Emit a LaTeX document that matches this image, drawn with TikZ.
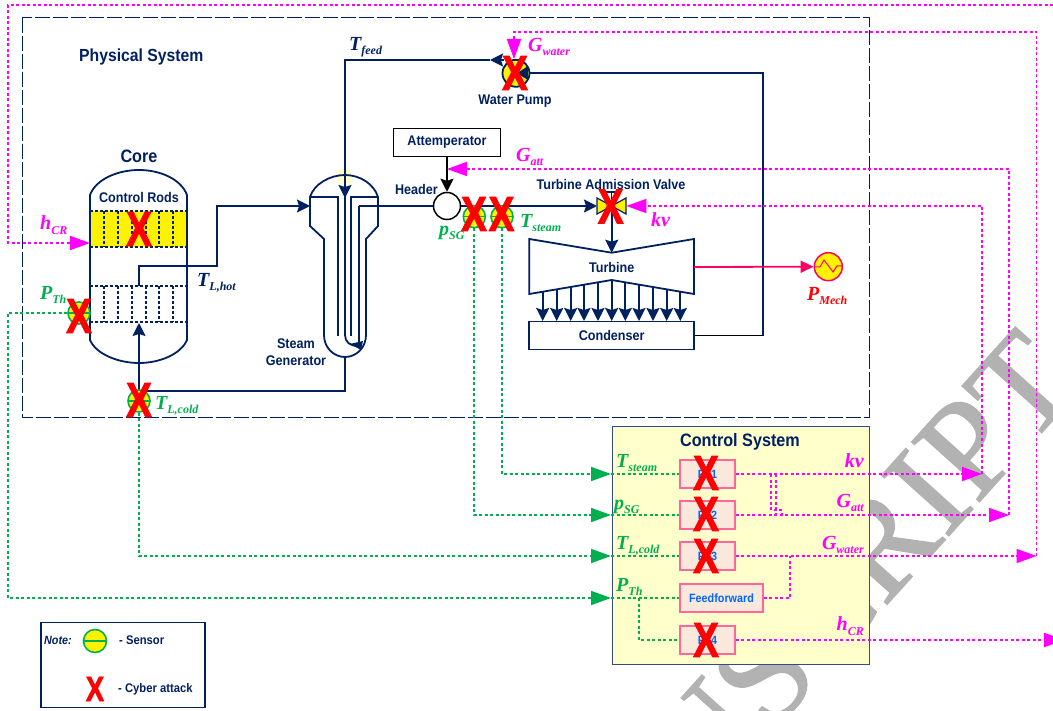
\documentclass[tikz,border=0pt]{standalone}
\usepackage{fontspec}
\setmainfont{Liberation Serif}
\setsansfont{Liberation Sans}[FakeStretch=0.9]
\newfontfamily\crossfont{Liberation Sans}[BoldFeatures={FakeBold=2,FakeStretch=0.78}]
\newfontfamily\stampfont{Liberation Serif}[FakeBold=1]
\usetikzlibrary{arrows.meta}
\definecolor{navy}{RGB}{0,32,96}
\definecolor{sgreen}{RGB}{0,176,80}
\definecolor{mgnt}{RGB}{255,0,255}
\definecolor{pale}{RGB}{255,255,204}
\definecolor{pidfill}{RGB}{251,232,220}
\definecolor{pidline}{RGB}{255,102,153}
\definecolor{pidtext}{RGB}{0,102,255}
\definecolor{gen}{RGB}{255,0,102}
\definecolor{wmark}{RGB}{178,178,178}
\newcommand{\sub}[2]{#1\raisebox{-.22em}{\fontsize{12}{12}\selectfont #2}}
\tikzset{
  pipe/.style={draw=navy, line width=1.8pt},
  flow/.style={pipe, -{Stealth[length=13pt,width=13pt,inset=2pt]}},
  sigm/.style={draw=mgnt, line width=1.8pt, dash pattern=on 3pt off 2.5pt},
  sigg/.style={draw=sgreen, line width=1.8pt, dash pattern=on 3pt off 2.5pt},
  tipm/.style={sigm, -{Triangle[length=20pt,width=14pt]}},
  tipg/.style={sigg, -{Triangle[length=20pt,width=14pt]}},
  rods/.style={draw=navy, line width=1.3pt, dash pattern=on 3pt off 2pt},
  sensor/.style={circle, draw=sgreen, fill=yellow, line width=1.6pt, minimum size=22pt, inner sep=0pt,
    path picture={\draw[sgreen, line width=1.6pt] (path picture bounding box.west) -- (path picture bounding box.east);}},
  attack/.style={text=red, font=\fontsize{49}{49}\selectfont\crossfont\bfseries, inner sep=0pt},
  pid/.style={draw=pidline, fill=pidfill, line width=1.6pt, minimum width=55pt, minimum height=28pt, inner sep=0pt,
    text=pidtext, font=\fontsize{12}{12}\selectfont\sffamily\bfseries},
  unit/.style={pipe, fill=white, minimum height=28pt, inner sep=0pt, text=navy, font=\fontsize{14}{14}\selectfont\sffamily\bfseries},
  txt/.style={text=navy, inner sep=0pt, align=center, font=\fontsize{14}{17}\selectfont\sffamily\bfseries},
  var/.style={inner sep=0pt, anchor=west, font=\fontsize{20}{20}\selectfont\rmfamily\bfseries\itshape},
  varr/.style={var, anchor=east}
}
\begin{document}
\begin{tikzpicture}[x=1pt, y=-1pt]
  \useasboundingbox (0,0) rectangle (1053,711);
  \node [rotate=48, text=wmark, font=\fontsize{138}{138}\selectfont\stampfont] (stamp) at (753,686) {MANUSCRIPT};
  % system frames
  \draw [navy, line width=1pt, dash pattern=on 15pt off 3pt] (22,18) rectangle (869,418);
  \node [draw=navy!80!white, fill=pale, line width=1pt, minimum width=257pt, minimum height=237pt, inner sep=0pt] (ctrl) at (740.5,545.5) {};
  \node [txt, font=\fontsize{17.5}{18}\selectfont\sffamily\bfseries, anchor=west] (phys) at (79,57) {Physical System};
  \node [txt, font=\fontsize{18}{18}\selectfont\sffamily\bfseries] (ctrltitle) at (740,442) {Control System};
  % core
  \fill [yellow] (90,211) rectangle (187,247);
  \draw [pipe] (90,195) .. controls (96,179) and (118,170) .. (139,170) .. controls (160,170) and (181,179) .. (187,195)
    -- (187,340) .. controls (181,354) and (160,363) .. (139,363) .. controls (118,363) and (96,354) .. (90,340) -- cycle;
  \foreach \y in {211,247,286,322} \draw [rods] (90,\y) -- (187,\y);
  \foreach \x in {104,118,132,146,159,173} {
    \draw [rods] (\x,211) -- (\x,247);
    \draw [rods] (\x,286) -- (\x,322);
  }
  \node [txt, font=\fontsize{18}{18}\selectfont\sffamily\bfseries] (core) at (139,156) {Core};
  \node [txt] (rodlabel) at (139,197) {Control Rods};
  % steam generator
  \fill [pale] (338,169) rectangle (351,184);
  \draw [pipe] (310,197) .. controls (314,184) and (330,175) .. (345,175) .. controls (360,175) and (374,184) .. (378,197)
    -- (378,226) -- (366,239) -- (366,335) .. controls (366,348) and (356,357) .. (345,357) .. controls (334,357) and (324,348) .. (324,335)
    -- (324,239) -- (310,226) -- cycle;
  \coordinate (sgtop) at (345,198);
  \coordinate (sgin) at (310,206);
  \coordinate (sgout) at (345,357);
  \draw [pipe] (310,197) -- (338,197) -- (338,336);
  \draw [pipe] (378,197) -- (351,197) -- (351,336);
  \draw [pipe] (345,198) -- (345,335) .. controls (345,342) and (350,346) .. (358,346);
  \draw [pipe] (359,343) -- (359,206);
  \fill [navy] (363,341) -- (350,344) -- (361,350) -- cycle;
  \node [txt] (sglabel) at (296,352) {Steam\\Generator};
  % turbine and condenser
  \node [unit, minimum width=165pt] (cond) at (611.7,335.5) {Condenser};
  \draw [pipe] (529.3,239) -- (611.7,252.7) -- (694,239) -- (694,294) -- (611.7,280) -- (529.3,294) -- cycle;
  \node [txt] (turb) at (611.7,267) {Turbine};
  \foreach \x/\y in {542.7/292,556.7/290,570.7/287,584/285,598/282,611.7/280,625.3/282,639/285,653/287,666.7/290,680.3/292}
    \draw [flow] (\x,\y) -- (\x,321);
  % header, attemperator, valve, pump
  \node [circle, draw=black, fill=white, line width=1.5pt, minimum size=27pt, inner sep=0pt] (header) at (447,206) {};
  \node [draw=black, line width=1.5pt, minimum width=107pt, minimum height=28pt, inner sep=0pt, text=navy, font=\fontsize{14}{14}\selectfont\sffamily\bfseries] (attemp) at (447,142.5) {Attemperator};
  \node [inner sep=0pt, minimum width=29pt, minimum height=20pt] (valve) at (611.7,206) {};
  \node [circle, draw=navy, fill=yellow, line width=1.8pt, minimum size=27pt, inner sep=0pt] (pump) at (516,73.3) {};
  \fill [navy] (528,66) -- (517,73.3) -- (528,80) -- cycle;
  \node [txt, anchor=east] (hdlabel) at (438,189) {Header};
  \node [txt] (pumplabel) at (515,101) {Water Pump};
  \node [txt] (valvelabel) at (611,184) {Turbine Admission Valve};
  % coolant and steam loops
  \draw [flow] (139,286) -- (139,266) -- (217,266) -- (217,206) -- (sgin);
  \draw [pipe] (sgout) -- (345,391) -- (139,391);
  \draw [flow] (139,401) -- (139,323);
  \draw [pipe] (359,206) -- (header.west);
  \draw [flow] (header.east) -- (valve.west);
  \draw [flow, black, -{Stealth[length=13pt,width=13pt,inset=2pt]}] (attemp.south) -- (header.north);
  \draw [flow] (valve.center) -- (611.7,252.7);
  \draw [pipe] (cond.east) -- (763,335.5) -- (763,73.3) -- (pump.east);
  \draw [flow] (504,60) -- (490,60);
  \draw [pipe] (490,60) -- (345,60) -- (sgtop);
  \draw [flow] (345,180) -- (sgtop);
  \draw [black, line width=1.5pt] (cond.east) -- (763,335.5);
  % valve body
  \draw [navy, line width=1.5pt] (611.7,206) -- (611.7,192) (605,192) -- (618,192);
  \draw [navy, fill=yellow, line width=1.2pt] (597,198) -- (611.7,206) -- (597,214) -- cycle;
  \draw [navy, fill=yellow, line width=1.2pt] (626,198) -- (611.7,206) -- (626,214) -- cycle;
  % generator
  \node [circle, draw=gen, fill=yellow, line width=1.5pt, minimum size=28pt, inner sep=0pt] (mech) at (828.3,266.7) {};
  \draw [gen, line width=1.8pt, -{Triangle[length=13pt,width=12pt]}] (694,267) -- (mech.west);
  \draw [gen, line width=1pt] (815,267) -- (820,267) -- (824,260) -- (833,272) -- (837,266) -- (842,266);
  % sensors
  \node [sensor] (spth) at (79,313) {};
  \node [sensor] (stcold) at (139,401) {};
  \node [sensor] (spsg) at (474.3,216.7) {};
  \node [sensor] (ststeam) at (502,216.7) {};
  % controllers
  \node [pid] (pi1) at (707.5,474) {PI 1};
  \node [pid] (pi2) at (707.5,515) {PI 2};
  \node [pid] (pi3) at (707.5,556) {PI 3};
  \node [pid, minimum width=83pt] (ffwd) at (721.5,598) {Feedforward};
  \node [pid] (pi4) at (707.5,640) {PI 4};
  % measurements
  \coordinate (intsteam) at (611,474);
  \coordinate (inpsg) at (611,515);
  \coordinate (intcold) at (611,556);
  \coordinate (inpth) at (611,598);
  \draw [tipg] (ststeam.south) |- (intsteam);
  \draw [sigg] (intsteam) -- (pi1.west);
  \draw [tipg] (spsg.south) |- (inpsg);
  \draw [sigg] (inpsg) -- (pi2.west);
  \draw [tipg] (stcold.south) |- (intcold);
  \draw [sigg] (intcold) -- (pi3.west);
  \draw [tipg] (spth.west) -- (8,313) |- (inpth);
  \draw [sigg] (inpth) -- (ffwd.west);
  \draw [sigg] (639,598) |- (pi4.west);
  % control signals
  \coordinate (outkv) at (982,474);
  \coordinate (outatt) at (1009,515);
  \coordinate (outwater) at (1036.5,556);
  \coordinate (outcr) at (1064,640);
  \coordinate (rodin) at (90,243);
  \draw [tipm] (pi1.east) -- (outkv);
  \draw [tipm] (outkv) |- (valve.east);
  \draw [tipm] (pi2.east) -- (outatt);
  \draw [tipm] (outatt) |- (447,169);
  \draw [tipm] (pi3.east) -- (outwater);
  \draw [tipm] (outwater) |- (514,32) -- (514,59);
  \draw [tipm] (pi4.east) -- (outcr);
  \draw [tipm] (1053,5) -- (8,5) |- (rodin);
  \draw [sigm] (771,474) -- (771,510) -- (782,510) -- (782,515);
  \draw [sigm] (776,474) -- (776,515);
  \draw [sigm] (ffwd.east) -| (790,556);
  % variable labels
  \node [var, text=navy] (vfeed) at (349,47) {\sub{T}{feed}};
  \node [var, text=navy] (vhot) at (197,283) {\sub{T}{L,hot}};
  \node [var, text=mgnt] (vwater) at (528,47) {\sub{G}{water}};
  \node [var, text=mgnt] (vatt) at (516,157) {\sub{G}{att}};
  \node [var, text=mgnt] (vkv) at (651,220) {kv};
  \node [var, text=mgnt] (vcr) at (40,225) {\sub{h}{CR}};
  \node [var, text=sgreen] (vth) at (40,295) {\sub{P}{Th}};
  \node [var, text=sgreen] (vcold) at (155,406) {\sub{T}{L,cold}};
  \node [var, text=sgreen] (vsg) at (439,233) {\sub{p}{SG}};
  \node [var, text=sgreen] (vsteam) at (520,223) {\sub{T}{steam}};
  \node [var, text=red] (vmech) at (807,296) {\sub{P}{Mech}};
  \node [var, text=sgreen] (asteam) at (616,463) {\sub{T}{steam}};
  \node [var, text=sgreen] (asg) at (614,507) {\sub{p}{SG}};
  \node [var, text=sgreen] (acold) at (616,546) {\sub{T}{L,cold}};
  \node [var, text=sgreen] (ath) at (616,587) {\sub{P}{Th}};
  \node [varr, text=mgnt] (bkv) at (864,461) {kv};
  \node [varr, text=mgnt] (batt) at (864,503) {\sub{G}{att}};
  \node [varr, text=mgnt] (bwater) at (864,545) {\sub{G}{water}};
  \node [varr, text=mgnt] (bcr) at (864,626) {\sub{h}{CR}};
  % cyber attacks
  \node [attack] (xrod) at (139,229) {X};
  \node [attack] (xth) at (79,316) {X};
  \node [attack] (xcold) at (139,400) {X};
  \node [attack] (xpump) at (515,73) {X};
  \node [attack] (xsg) at (474,214) {X};
  \node [attack] (xsteam) at (501.5,214) {X};
  \node [attack] (xvalve) at (610.7,206.5) {X};
  \node [attack] (xpi1) at (706,473) {X};
  \node [attack] (xpi2) at (706,514) {X};
  \node [attack] (xpi3) at (706,556) {X};
  \node [attack] (xpi4) at (706,640) {X};
  % legend
  \node [draw=navy, line width=1.2pt, minimum width=164pt, minimum height=85pt, inner sep=0pt] (note) at (123,665) {};
  \node [txt, anchor=west, font=\fontsize{12}{12}\selectfont\sffamily\bfseries\itshape] (notelabel) at (44,640) {Note:};
  \node [sensor, minimum size=23pt] (notesens) at (95,641) {};
  \node [txt, anchor=west, font=\fontsize{12.5}{12.5}\selectfont\sffamily\bfseries] (notes) at (119,640) {- Sensor};
  \node [attack, font=\fontsize{35}{35}\selectfont\crossfont\bfseries] (notex) at (95,689) {X};
  \node [txt, anchor=west, font=\fontsize{12.5}{12.5}\selectfont\sffamily\bfseries] (notea) at (118,689) {- Cyber attack};
\end{tikzpicture}
\end{document}
